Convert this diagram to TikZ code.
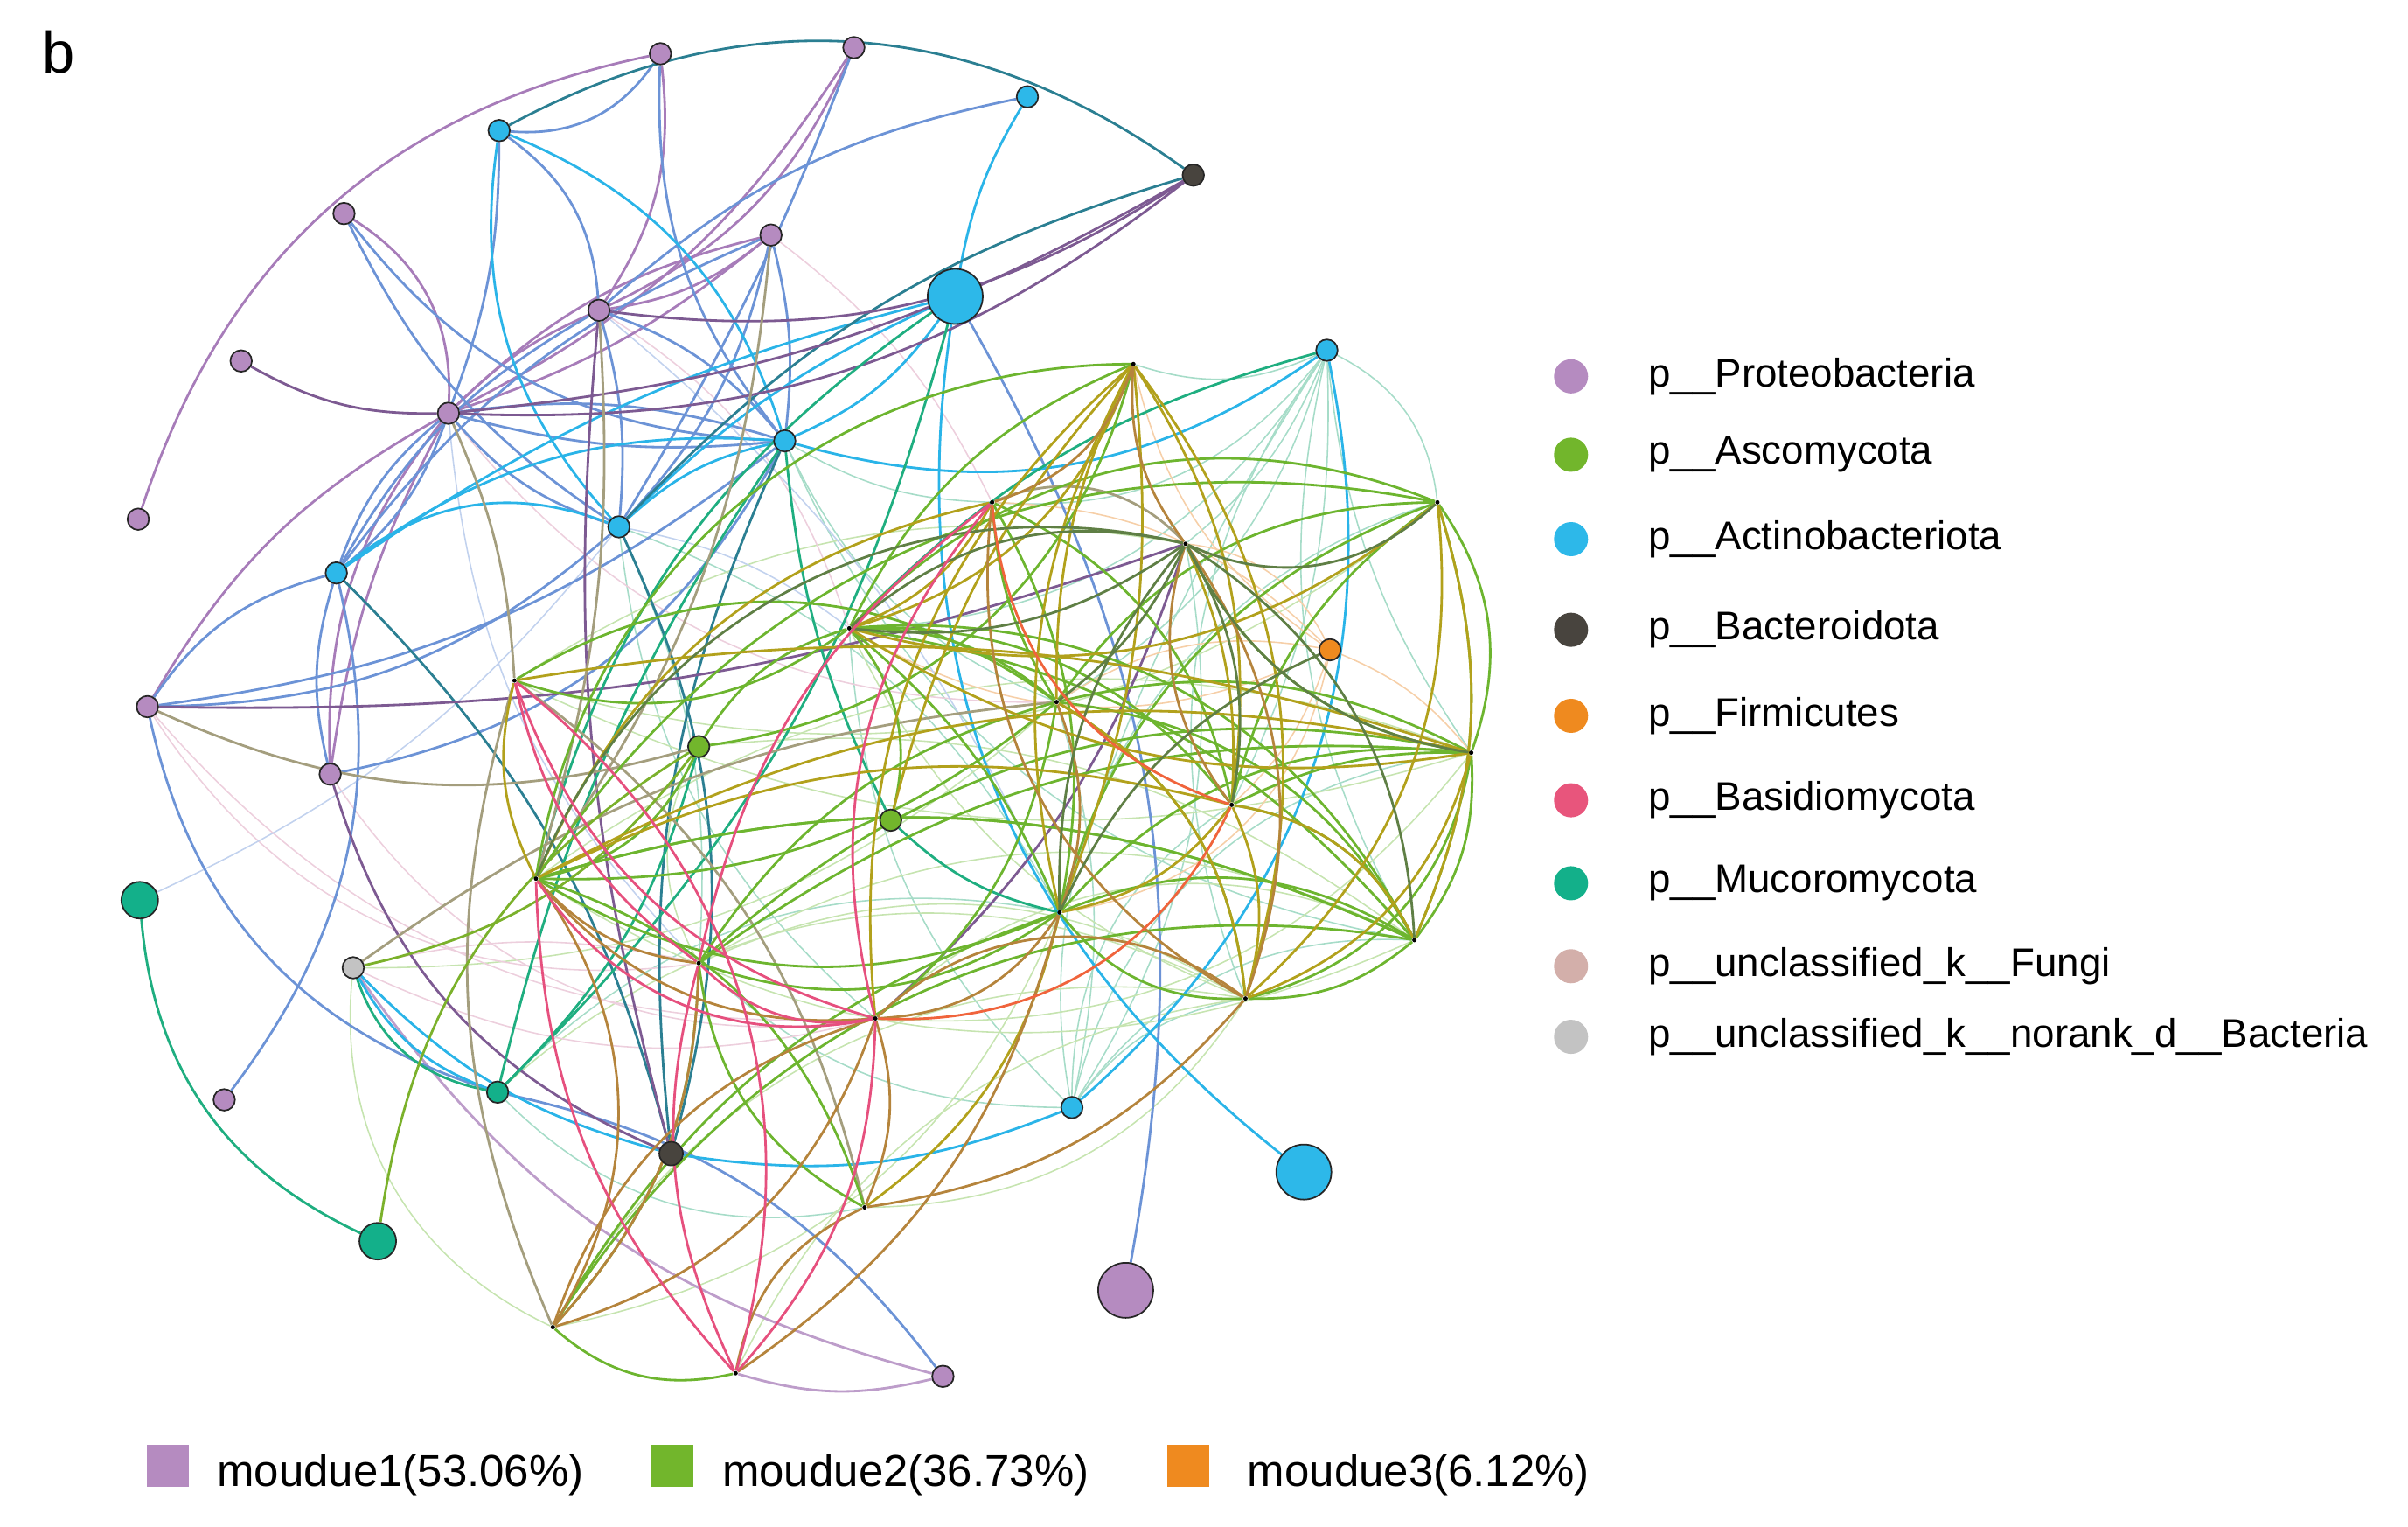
\documentclass[tikz,border=0pt]{standalone}
\usepackage{fontspec}
\setmainfont{Liberation Sans}
\pgfdeclarelayer{bg}
\pgfsetlayers{bg,main}
\definecolor{cP}{HTML}{B58BC0}
\definecolor{cG}{HTML}{72B62C}
\definecolor{cA}{HTML}{2DB8E9}
\definecolor{cB}{HTML}{48443E}
\definecolor{cF}{HTML}{EF8A1F}
\definecolor{cBa}{HTML}{E8557C}
\definecolor{cM}{HTML}{13B08A}
\definecolor{cUF}{HTML}{D3AFAA}
\definecolor{cUB}{HTML}{C3C3C3}
\definecolor{ePP}{HTML}{A77CB9}
\definecolor{ePA}{HTML}{6C93D6}
\definecolor{eAA}{HTML}{2AB4E8}
\definecolor{eAB}{HTML}{2B7F92}
\definecolor{ePB}{HTML}{7D5A92}
\definecolor{eGG}{HTML}{6DB52F}
\definecolor{eOl}{HTML}{B2A11C}
\definecolor{eBr}{HTML}{B5843C}
\definecolor{eDG}{HTML}{5F7F45}
\definecolor{ePk}{HTML}{E6507E}
\definecolor{eRd}{HTML}{F0643C}
\definecolor{eKh}{HTML}{A49E7E}
\definecolor{eTG}{HTML}{1FAE80}
\definecolor{eLT}{HTML}{A6DCC8}
\definecolor{eLG}{HTML}{C6E4B0}
\definecolor{eLO}{HTML}{F6CFA8}
\definecolor{eLP}{HTML}{EDCFDD}
\definecolor{eLB}{HTML}{C2D2EE}
\newcommand{\mkedges}[3][1]{\foreach \a/\b/\k in {#3} {\pgfmathsetmacro\kk{#1*\k}\draw[#2, bend left=\kk] (\a) to (\b);}}
\tikzset{
  nd/.style={circle, draw=black!85, line width=0.5pt, inner sep=0pt, minimum size=0.246cm},
  bignd/.style={nd, minimum size=0.63cm},
  mednd/.style={nd, minimum size=0.42cm},
  hub/.style={circle, fill=black, inner sep=0pt, minimum size=0.05cm},
  ed/.style={line width=0.8pt},
  edthin/.style={line width=0.45pt},
  legtxt/.style={anchor=west, font=\fontsize{13pt}{15pt}\selectfont, inner sep=0pt},
  modtxt/.style={anchor=west, font=\fontsize{14.5pt}{17pt}\selectfont, inner sep=0pt},
  legdot/.style={circle, inner sep=0pt, minimum size=0.39cm}
}
\begin{document}
\begin{tikzpicture}[x=0.017564cm, y=-0.017564cm]
\useasboundingbox (0,0) rectangle (1568,994);
\node[font=\fontsize{19pt}{21pt}\selectfont] (lab) at (38,34) {b};
% Proteobacteria
\node[nd, fill=cP] (P1) at (430,35) {};
\node[nd, fill=cP] (P2) at (556,31) {};
\node[nd, fill=cP] (P3) at (224,139) {};
\node[nd, fill=cP] (P4) at (502,153) {};
\node[nd, fill=cP] (P5) at (390,202) {};
\node[nd, fill=cP] (P6) at (157,235) {};
\node[nd, fill=cP] (P7) at (292,269) {};
\node[nd, fill=cP] (P8) at (90,338) {};
\node[nd, fill=cP] (P9) at (96,460) {};
\node[nd, fill=cP] (P10) at (215,504) {};
\node[nd, fill=cP] (P11) at (146,716) {};
\node[nd, fill=cP] (P12) at (614,896) {};
\node[bignd, fill=cP] (P13) at (733,840) {};
% Actinobacteriota
\node[nd, fill=cA] (A1) at (325,85) {};
\node[nd, fill=cA] (A2) at (669,63) {};
\node[bignd, fill=cA] (A3) at (622,193) {};
\node[nd, fill=cA] (A4) at (864,228) {};
\node[nd, fill=cA] (A5) at (511,287) {};
\node[nd, fill=cA] (A6) at (403,343) {};
\node[nd, fill=cA] (A7) at (219,373) {};
\node[nd, fill=cA] (A8) at (698,721) {};
\node[bignd, fill=cA] (A9) at (849,763) {};
% others
\node[nd, fill=cB] (B1) at (777,114) {};
\node[nd, fill=cB, minimum size=0.27cm] (B2) at (437,751) {};
\node[nd, fill=cF] (F1) at (866,423) {};
\node[nd, fill=cG] (G1) at (455,486) {};
\node[nd, fill=cG] (G2) at (580,534) {};
\node[mednd, fill=cM] (M1) at (91,586) {};
\node[mednd, fill=cM] (M2) at (246,808) {};
\node[nd, fill=cM] (M3) at (324,711) {};
\node[nd, fill=cUB] (U1) at (230,630) {};
% hubs
\node[hub] (h1) at (738,237) {};
\node[hub] (h2) at (936,327) {};
\node[hub] (h3) at (646,327) {};
\node[hub] (h4) at (772,354) {};
\node[hub] (h5) at (553,409) {};
\node[hub] (h6) at (688,457) {};
\node[hub] (h7) at (958,490) {};
\node[hub] (h8) at (802,524) {};
\node[hub] (h9) at (921,612) {};
\node[hub] (h10) at (690,594) {};
\node[hub] (h11) at (811,650) {};
\node[hub] (h12) at (570,663) {};
\node[hub] (h13) at (455,627) {};
\node[hub] (h14) at (349,572) {};
\node[hub] (h15) at (335,443) {};
\node[hub] (h16) at (563,786) {};
\node[hub] (h17) at (360,864) {};
\node[hub] (h18) at (479,894) {};

\begin{pgfonlayer}{bg}
% pale background edges
\mkedges[1.4]{eLT, edthin}{A4/h1/15, A4/h3/20, A4/h4/10, A4/h6/15, A4/h7/-10, A4/h8/10, A4/h9/-15, A4/h5/20, A4/h10/-5, A4/h11/-20, A8/h7/25, A8/h9/20, A8/h11/15, A8/h2/30, A8/h6/-10, A8/h5/15, A8/h13/15, A8/h8/20, A5/h6/-15, A5/h3/-10, A6/h13/10, A6/h10/15, M3/h10/20, M3/h16/-20, A5/h9/-20, A6/h12/-15, A4/h2/20, A8/h4/-15}
\mkedges[1.4]{eLG, edthin}{h5/h11/-15, h14/h9/-20, h15/h7/-15, h13/h9/20, h17/h11/25, h16/h11/-20, G1/h9/15, G1/h13/-20, U1/h6/-15, h15/h2/-20, h18/h11/20, M3/h11/25, h17/h10/-20, h12/h7/-20, h12/h9/25, h13/h11/20, U1/h17/-25, h14/h7/20, h15/h4/15}
\mkedges[1.4]{eLO, edthin}{F1/h1/15, F1/h4/-20, F1/h5/20, F1/h6/-15, F1/h8/10, F1/h3/-15, F1/h7/10, F1/h10/25}
\mkedges[1.3]{eLP, edthin}{P9/h12/-20, P9/h13/-25, U1/h13/10, P10/h12/-25, U1/h12/-15, P5/h5/15, P7/h6/-20, P4/h3/10}
\mkedges[1.3]{eLB, edthin}{M1/A6/-10, P7/h13/-15, P5/h10/10, A6/h5/10}
% module 1
\mkedges{ePP, ed}{P1/P8/-30, P1/P5/20, P2/P5/20, P2/P7/15, P4/P5/15, P4/P7/-15, P3/P7/30, P10/P7/20, P10/P7/10, P9/P7/15, P7/P5/10, P4/P7/10}
\mkedges{ePP!75!white, ed}{U1/P12/-20, h18/P12/-15}
\mkedges{ePA, ed}{P1/A1/30, P1/A5/-20, P2/A6/5, P3/A5/-25, A1/P5/25, A1/P7/10, P7/A5/-10, P7/A5/12, P7/A6/-15, A7/P7/15, A7/P7/-15, P5/A7/-15, P5/A5/15, P4/A6/15, P4/A7/-15, P9/A5/-15, P9/A6/-20, P9/A7/20, P9/M3/-30, P10/A5/-25, P10/A7/15, P11/A7/-25, A3/P13/20, A2/P5/-15, P5/A6/10, M3/P12/20, P4/A5/10, P3/A6/-15}
\mkedges{eAA, ed}{A1/A6/-25, A1/A5/25, A5/A4/-25, A3/A9/-30, A4/A8/30, A8/B2/15, A7/A6/30, A7/A5/20, A3/A5/15, A3/A6/-10, A2/A3/-10, A6/A5/15, U1/B2/-15, U1/M3/-20, A3/A7/-10}
\mkedges{eAB, ed}{A1/B1/32, A6/B2/20, A7/B2/15, B1/A6/-15, A5/B2/-15}
\mkedges{ePB, ed}{P6/P7/-15, P7/B1/-20, P7/B1/-12, P5/B1/-20, P5/B2/-10, P10/B2/-25, P9/h4/-10, h4/h12/15}
\mkedges{eTG, ed}{M1/M2/-30, M3/G1/-15, A5/M3/-10, G2/A5/10, A3/M3/15, U1/M3/-30, A4/h5/-15, G2/h10/-15, A3/h14/-20}
\mkedges{eKh, ed}{P9/G1/-20, h15/h17/-20, h15/h16/20, h3/h4/35, P7/h15/10, P5/h14/10, P4/h14/15, U1/h6/15}
\mkedges{eGG!80!eOl, ed}{M2/G1/25, U1/G1/-20}
% module 2
\mkedges[1.35]{eGG, ed}{h1/h14/-30, h1/h5/-15, h2/h6/-20, h2/h8/-15, h2/h10/-20, h2/h5/-25, h2/h14/-25, h7/h6/-15, h7/h8/-10, h7/h10/-20, h7/h9/15, h7/h13/-20, h7/h4/20, h9/h10/-20, h9/h11/15, h9/h6/-20, h9/h5/-25, h9/h14/-15, h5/h6/15, h5/h8/20, h5/h9/15, h5/h10/10, h6/h14/15, h6/h13/-15, h6/h11/20, h6/h12/15, h3/h10/15, h3/h8/20, h10/h13/20, h10/h17/-15, h10/h11/-20, h10/h14/20, h13/h17/15, h13/h16/-20, h14/h16/20, h17/h18/-20, G1/h1/-25, G1/h5/15, G1/h14/20, h15/h6/25, h15/h5/-20, h8/h9/20, h11/h7/-25, h9/h2/-15, h2/h7/20, h14/h9/15, h13/h7/15, h17/h9/25, h3/h6/-10, G2/h5/-20}
\mkedges[1.35]{eOl, ed}{h1/h6/-10, h1/h10/-15, h1/h10/10, h1/h8/15, h1/h11/20, h1/h5/20, h3/h5/15, h3/h14/-20, h5/h7/-15, h5/h2/-20, h7/h11/20, h7/h14/-15, h8/h10/15, h8/h11/15, h8/h14/-15, h9/h8/-20, h10/h16/15, h14/h15/15, h2/h9/15, h4/h8/10, h1/h12/-20, G2/h1/10, h2/h11/20, h15/h7/10, h11/h6/-20}
\mkedges[1.35]{eBr, ed}{h1/h3/20, h1/h4/-15, h3/h11/-25, h4/h11/20, h6/h10/15, h10/h12/20, h11/h12/-30, h11/h16/15, h12/h14/20, h12/h16/15, h12/h17/-20, h13/h14/15, h14/h17/25, h16/h18/-20, h17/h13/-15, h10/h18/15, h4/h8/-20, h12/h17/20}
\mkedges[1.35]{eDG, ed}{h4/h2/-25, h4/h14/-30, h4/h8/15, h4/h10/-15, h4/h9/20, h4/h6/10, h4/h7/-20, F1/h10/-15, h4/h5/-20, h4/h5/15}
\mkedges[1.35]{ePk, ed}{h3/h12/-20, h3/h13/-15, h12/h13/20, h12/h18/15, h13/h18/-15, h14/h18/-15, h15/h18/25, h15/h12/-20, h13/h15/15, h14/h12/-25}
\mkedges[1.35]{eRd, ed}{h8/h12/25, h3/h8/-25}
\end{pgfonlayer}

% legend
\node[legdot, fill=cP] (L1) at (1023,245) {};
\node[legtxt] (T1) at (1073,245) {p\_\_Proteobacteria};
\node[legdot, fill=cG] (L2) at (1023,296) {};
\node[legtxt] (T2) at (1073,296) {p\_\_Ascomycota};
\node[legdot, fill=cA] (L3) at (1023,351) {};
\node[legtxt] (T3) at (1073,351) {p\_\_Actinobacteriota};
\node[legdot, fill=cB] (L4) at (1023,410) {};
\node[legtxt] (T4) at (1073,410) {p\_\_Bacteroidota};
\node[legdot, fill=cF] (L5) at (1023,466) {};
\node[legtxt] (T5) at (1073,466) {p\_\_Firmicutes};
\node[legdot, fill=cBa] (L6) at (1023,521) {};
\node[legtxt] (T6) at (1073,521) {p\_\_Basidiomycota};
\node[legdot, fill=cM] (L7) at (1023,575) {};
\node[legtxt] (T7) at (1073,575) {p\_\_Mucoromycota};
\node[legdot, fill=cUF] (L8) at (1023,629) {};
\node[legtxt] (T8) at (1073,629) {p\_\_unclassified\_k\_\_Fungi};
\node[legdot, fill=cUB] (L9) at (1023,675) {};
\node[legtxt] (T9) at (1073,675) {p\_\_unclassified\_k\_\_norank\_d\_\_Bacteria};
% module legend
\node[fill=cP, minimum width=0.48cm, minimum height=0.48cm, inner sep=0pt] (S1) at (109.5,954) {};
\node[modtxt] (m1) at (141,960) {moudue1(53.06\%)};
\node[fill=cG, minimum width=0.48cm, minimum height=0.48cm, inner sep=0pt] (S2) at (438,954) {};
\node[modtxt] (m2) at (470,960) {moudue2(36.73\%)};
\node[fill=cF, minimum width=0.48cm, minimum height=0.48cm, inner sep=0pt] (S3) at (774,954) {};
\node[modtxt] (m3) at (812,960) {moudue3(6.12\%)};
\end{tikzpicture}
\end{document}
